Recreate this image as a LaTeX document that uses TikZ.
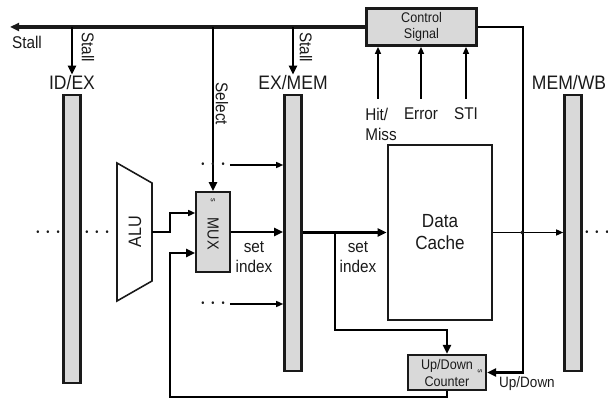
\documentclass[tikz,border=0pt]{standalone}
\usepackage{fontspec}
\setmainfont{Liberation Sans}[FakeStretch=0.9]
\usepackage{tikz}
\usetikzlibrary{arrows.meta,calc,positioning}
\definecolor{regfill}{HTML}{D9D9D9}
\definecolor{ink}{HTML}{1A1A1A}
\newcommand{\threedots}{{\fontsize{10}{10}\selectfont\textbullet\hspace{7pt}\textbullet\hspace{7pt}\textbullet}}

\begin{document}
\begin{tikzpicture}[x=1pt,y=-1pt,
  every node/.style={text=ink,inner sep=1pt},
  tip/.style={-{Triangle[length=9pt,width=8pt]}},
  smalltip/.style={-{Triangle[length=7pt,width=6pt]}},
  reg/.style={draw=ink,line width=2.6pt,fill=regfill,minimum width=17pt,inner sep=0pt},
  unit/.style={draw=ink,line width=2.2pt,fill=regfill,align=center,inner sep=0pt},
  lbl/.style={font=\fontsize{17}{20}\selectfont,align=center},
  big/.style={font=\fontsize{19.5}{22}\selectfont},
  tiny/.style={font=\fontsize{8}{8}\selectfont}]
  \useasboundingbox (0,0) rectangle (608,403);

  \node[reg,minimum height=288pt] (idex) at (72,239) {};
  \node[reg,minimum height=276pt] (exmem) at (293,233) {};
  \node[reg,minimum height=276pt] (memwb) at (573,233) {};
  \node[big] (idexlbl) at (72,83) {ID/EX};
  \node[big] (exmemlbl) at (293,83) {EX/MEM};
  \node[big] (memwblbl) at (569,83) {MEM/WB};

  \node[unit,line width=2.8pt,minimum width=110pt,minimum height=37pt,font=\fontsize{14}{16}\selectfont] (ctrl) at (421.5,27) {Control\\Signal};
  \node[draw=ink,line width=2.8pt,minimum width=104pt,minimum height=175pt,align=center,font=\fontsize{19}{22}\selectfont] (cache) at (440,232.5) {Data\\Cache};
  \node[unit,line width=1.6pt,minimum width=34pt,minimum height=80pt] (mux) at (213,232) {};
  \node[rotate=-90,font=\fontsize{16}{16}\selectfont] (muxlbl) at (213,234) {MUX};
  \node[rotate=-90,tiny] (muxsel) at (213,200) {s};
  \node[unit,minimum width=78pt,minimum height=35pt,font=\fontsize{14}{17}\selectfont] (counter) at (447,372.5) {Up/Down\\Counter};
  \node[rotate=-90,tiny] (cntsel) at (480,371) {s};

  \draw[ink,line width=1.6pt] (117,163) -- (152,183) -- (152,281) -- (117,301) -- cycle;
  \node[rotate=90,font=\fontsize{18}{18}\selectfont] (alu) at (135,232) {ALU};
  \coordinate (aluout) at (152,232);

  \coordinate (stallend) at (10,27);
  \draw[tip,ink,line width=3.2pt] (ctrl.west) -- (stallend);
  \node[lbl] (stalltxt) at (27,42) {Stall};
  \draw[tip,line width=2.4pt] (idexlbl.north |- ctrl.west) -- (idexlbl.north);
  \node[lbl,rotate=-90] (stall1) at (88,47) {Stall};
  \draw[tip,line width=2.4pt] (exmemlbl.north |- ctrl.west) -- (exmemlbl.north);
  \node[lbl,rotate=-90] (stall2) at (306,47) {Stall};
  \draw[tip,line width=2.4pt] (mux.north |- ctrl.west) -- (mux.north);
  \node[lbl,rotate=-90] (seltxt) at (222,104) {Select};

  \draw[tip,line width=2.4pt] (ctrl.east) -| ([xshift=36pt]counter.east) -- (counter.east);
  \node[font=\fontsize{15}{15}\selectfont] (udtxt) at (527,384) {Up/Down};

  \node[lbl,align=left] (hitmiss) at (381,124) {Hit/\\Miss};
  \node[lbl] (err) at (421,114) {Error};
  \node[lbl] (sti) at (466,114) {STI};
  \draw[smalltip,line width=1.5pt] ([xshift=-3pt,yshift=8pt]hitmiss.north) -- ([xshift=-3pt]hitmiss.north |- ctrl.south);
  \draw[smalltip,line width=1.5pt] ([yshift=8pt]err.north) -- (err.north |- ctrl.south);
  \draw[smalltip,line width=1.5pt] ([yshift=8pt]sti.north) -- (sti.north |- ctrl.south);

  \draw[smalltip,line width=1.5pt] (aluout) -- ++(18,0) |- ([yshift=19pt]mux.west);
  \coordinate (fbcorner) at (170,397);
  \draw[tip,line width=2.8pt] (counter.south) |- (fbcorner) |- ([yshift=-21pt]mux.west);

  \draw[tip,line width=2.8pt] (mux.east) -- (mux.east -| exmem.west);
  \node[lbl] (setidx1) at (254,257) {set\\index};
  \draw[tip,line width=2.8pt] (exmem.east |- cache.west) -- (cache.west);
  \node[lbl] (setidx2) at (358,257) {set\\index};
  \coordinate (tap) at (335,232.5);
  \draw[tip,line width=2.4pt] (tap) |- ([yshift=24pt]counter.north) -- (counter.north);

  \draw[smalltip,line width=1.4pt] (cache.east) -- (cache.east -| memwb.west);
  \fill[ink] (522,232.5) circle (1.8pt);

  \node (dotsl1) at (48,233) {\threedots};
  \node (dotsl2) at (97,233) {\threedots};
  \node (dotsr) at (597,233) {\threedots};
  \node (dotsup) at (213,165) {\threedots};
  \node (dotslo) at (213,304) {\threedots};
  \draw[smalltip,line width=1.4pt] ([xshift=4pt]dotsup.east) -- (dotsup.east -| exmem.west);
  \draw[smalltip,line width=1.4pt] ([xshift=4pt]dotslo.east) -- (dotslo.east -| exmem.west);
\end{tikzpicture}
\end{document}
